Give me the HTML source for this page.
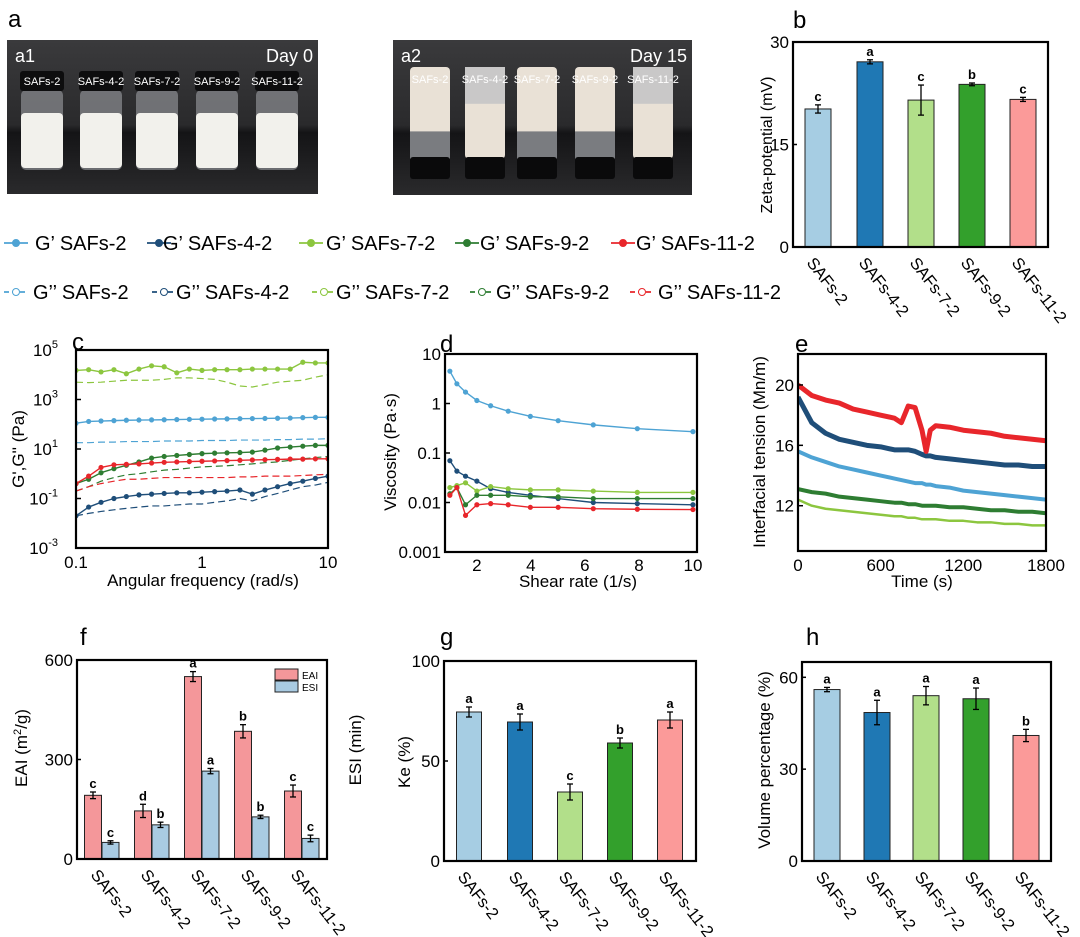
<!DOCTYPE html>
<html><head><meta charset="utf-8"><title>SAFs figure</title>
<style>
html,body{margin:0;padding:0;background:#fff;}
svg{display:block;font-family:"Liberation Sans",Arial,sans-serif;}
</style></head>
<body>
<svg id="fig" width="1080" height="937" viewBox="0 0 1080 937" xmlns="http://www.w3.org/2000/svg">
<defs>
<linearGradient id="bg1" x1="0" y1="0" x2="0" y2="1"><stop offset="0" stop-color="#3a3a3c"/><stop offset="0.55" stop-color="#2a2a2c"/><stop offset="0.6" stop-color="#141416"/><stop offset="1" stop-color="#2a2a2c"/></linearGradient>
</defs>
<g id="photos"></g>
<g id="root"></g>
</svg>
<script>
// ---------- data ----------
const groups = ["SAFs-2","SAFs-4-2","SAFs-7-2","SAFs-9-2","SAFs-11-2"];
const zetaVals = [20.2,27.1,21.5,23.8,21.6];
const zetaErr = [0.6,0.3,2.2,0.2,0.3];
const zetaLetters = ["c","a","c","b","c"];
const zetaTicks = [0,15,30];

const freq = [0.1,0.126,0.158,0.2,0.251,0.316,0.398,0.501,0.631,0.794,1,1.26,1.58,2,2.51,3.16,3.98,5.01,6.31,7.94,10];
const gp2 = [110,130,135,140,145,148,150,152,155,158,160,163,165,168,170,172,175,178,185,190,190];
const gpp2 = [18,18,19,19,20,20,20,21,21,21,22,22,22,23,23,23,24,24,25,25,26];
const gp4 = [0.02,0.045,0.07,0.1,0.12,0.14,0.15,0.16,0.17,0.17,0.18,0.19,0.2,0.22,0.15,0.22,0.3,0.4,0.5,0.65,0.8];
const gpp4 = [0.02,0.025,0.03,0.035,0.04,0.045,0.05,0.05,0.055,0.06,0.06,0.07,0.08,0.1,0.08,0.12,0.16,0.22,0.3,0.35,0.45];
const gp7 = [15000,16000,13000,16000,11000,17000,23000,21000,12000,17000,15000,16000,16000,16000,17000,17000,17000,17000,32000,30000,30000];
const gpp7 = [5000,4800,5000,5500,6000,6000,6000,6500,7500,7500,7000,6500,5000,3500,3200,4000,5000,5500,6000,8000,10000];
const gp9 = [0.4,0.6,1.1,1.6,2.2,3.0,4.3,5.0,5.5,6.0,6.5,6.8,7.0,7.2,7.5,9,11,12,13,14,14];
const gpp9 = [0.2,0.3,0.5,0.7,0.9,1.0,1.2,1.4,1.5,1.7,1.9,2.0,2.1,2.3,2.5,2.8,3,3.5,4,4.5,5];
const gp11 = [0.4,0.8,1.8,2.3,2.4,2.5,2.7,2.9,3,3.1,3.2,3.3,3.4,3.5,3.6,3.7,3.8,3.9,3.9,4,4];
const gpp11 = [0.2,0.3,0.4,0.5,0.6,0.6,0.65,0.7,0.7,0.7,0.7,0.7,0.7,0.75,0.75,0.8,0.8,0.8,0.85,0.9,0.95];

const shear = [1,1.26,1.58,2,2.51,3.16,3.98,5.01,6.31,7.94,10];
const visc2 = [4.5,2.5,1.7,1.15,0.9,0.7,0.55,0.45,0.37,0.31,0.27];
const visc4 = [0.07,0.043,0.034,0.027,0.019,0.016,0.014,0.012,0.010,0.0095,0.009];
const visc7 = [0.02,0.022,0.025,0.017,0.021,0.019,0.018,0.018,0.017,0.016,0.016];
const visc9 = [0.015,0.02,0.009,0.014,0.014,0.014,0.013,0.013,0.012,0.012,0.012];
const visc11 = [0.014,0.02,0.0055,0.009,0.0095,0.009,0.008,0.008,0.0075,0.0073,0.0072];

const times = [0,100,200,300,400,500,600,700,750,800,850,900,930,960,1000,1100,1200,1300,1400,1500,1600,1700,1800];
const ift11 = [20,19.3,19.0,18.8,18.4,18.2,18.0,17.8,17.5,18.6,18.5,17.0,15.6,17.0,17.3,17.2,17.0,16.9,16.8,16.6,16.5,16.4,16.3];
const ift4 = [19.2,17.5,16.8,16.4,16.2,16.0,15.9,15.7,15.7,15.7,15.6,15.4,15.3,15.3,15.2,15.1,15.0,14.9,14.8,14.7,14.7,14.6,14.6];
const ift2 = [15.6,15.2,14.9,14.6,14.4,14.2,14.0,13.8,13.7,13.6,13.5,13.5,13.4,13.4,13.3,13.2,13.0,12.9,12.8,12.7,12.6,12.5,12.4];
const ift9 = [13.1,12.9,12.8,12.6,12.5,12.4,12.3,12.2,12.2,12.1,12.1,12.0,12.0,12.0,12.0,11.9,11.9,11.8,11.7,11.7,11.6,11.6,11.5];
const ift7 = [12.4,12.0,11.8,11.7,11.6,11.5,11.4,11.3,11.3,11.2,11.2,11.1,11.1,11.1,11.1,11.0,11.0,10.9,10.9,10.8,10.8,10.7,10.7];

const eaiVals = [192,145,550,385,205];
const eaiErr = [10,20,15,20,18];
const eaiLetters = ["c","d","a","b","c"];
const esiVals = [50,103,265,127,62];
const esiErr = [5,8,8,5,10];
const esiLetters = ["c","b","a","b","c"];
const eaiTicks = [0,300,600];

const keVals = [74.5,69.5,34.5,59,70.5];
const keErr = [2.5,4,4,2.5,4];
const keLetters = ["a","a","c","b","a"];
const keTicks = [0,50,100];

const volVals = [56,48.5,54,53,41];
const volErr = [0.7,4,3,3.5,2];
const volLetters = ["a","a","a","a","b"];
const volTicks = [0,30,60];

// ---------- helpers ----------
const NS="http://www.w3.org/2000/svg";
const root=document.getElementById('root');
const photos=document.getElementById('photos');
function mk(tag,attrs,parent){const e=document.createElementNS(NS,tag);for(const k in attrs)e.setAttribute(k,attrs[k]);(parent||root).appendChild(e);return e;}
function txt(s,x,y,attrs,parent){const e=mk('text',Object.assign({x:x,y:y},attrs||{}),parent);e.textContent=s;return e;}
const barCols=["#a6cde3","#1f78b4","#b2df8a","#33a02c","#fb9a99"];
const lineCols=["#4ea3d4","#1f4e79","#8cc63f","#2e7d32","#e8262b"];

function linScale(d0,d1,r0,r1){return v=>r0+(v-d0)/(d1-d0)*(r1-r0);}
function logScale(d0,d1,r0,r1){const a=Math.log10(d0),b=Math.log10(d1);return v=>r0+(Math.log10(v)-a)/(b-a)*(r1-r0);}

function frame(x0,y0,x1,y1,name){
  const r=mk('rect',{x:x0,y:y0,width:x1-x0,height:y1-y0,fill:'none',stroke:'#000','stroke-width':2.2});
  
  
}
function ylab(s,x,y,size){const t=txt(s,x,y,{'font-size':size||16,'text-anchor':'middle',transform:`rotate(-90 ${x} ${y})`});return t;}
function letter(s,x,y){const t=txt(s,x,y,{'font-size':24});}

function barChart(o){
  const {x0,x1,y0,y1,ymax,ticks,centers,w}=o;
  const ys=linScale(0,ymax,y1,y0);
  o.series.forEach((s,si)=>{
    s.vals.forEach((v,i)=>{
      const cx=centers[i]+(s.off||0);
      const b=mk('rect',{x:cx-w/2,y:ys(v),width:w,height:y1-ys(v),fill:s.colors?s.colors[i]:s.color,stroke:'#222','stroke-width':1});
      
      
      const e=s.err[i];
      mk('line',{x1:cx,x2:cx,y1:ys(v+e),y2:ys(v-e),stroke:'#000','stroke-width':1.3});
      mk('line',{x1:cx-3,x2:cx+3,y1:ys(v+e),y2:ys(v+e),stroke:'#000','stroke-width':1.3});
      mk('line',{x1:cx-3,x2:cx+3,y1:ys(v-e),y2:ys(v-e),stroke:'#000','stroke-width':1.3});
      const l=txt(s.letters[i],cx,ys(v+e)-4,{'font-size':13,'font-weight':'bold','text-anchor':'middle'});
      
      
    });
  });
  frame(x0,y0,x1,y1,o.name+'-plot-frame');
  ticks.forEach(t=>{
    mk('line',{x1:x0,x2:x0+4,y1:ys(t),y2:ys(t),stroke:'#000','stroke-width':1.5});
    const tl=txt(String(t),x0-4,ys(t)+6,{'font-size':17,'text-anchor':'end'});
    
    
  });
  groups.forEach((g,i)=>{
    const gx=o.labelCenters?o.labelCenters[i]:centers[i];
    const tx=gx-12, ty=y1+16;
    const t=txt(g,tx,ty,{'font-size':16.5,transform:`rotate(52 ${tx} ${ty})`});
    
    
  });
}

function lineChart(o){
  const {x0,x1,y0,y1}=o;
  const clipId='clip'+o.name;
  const cp=mk('clipPath',{id:clipId});mk('rect',{x:x0,y:y0,width:x1-x0,height:y1-y0},cp);
  const g=mk('g',{'clip-path':`url(#${clipId})`});
  o.series.forEach(s=>{
    const pts=s.y.map((v,i)=>[o.xs(o.x[i]),o.ys(v)]);
    const p=mk('polyline',{points:pts.map(p=>p.join(',')).join(' '),fill:'none',stroke:s.color,'stroke-width':s.sw||1.3,'stroke-dasharray':s.dash||'none','stroke-linejoin':'round'},g);
    
    
    if(s.marker){pts.forEach(q=>{
      const m=mk('circle',{cx:q[0],cy:q[1],r:2.2,fill:s.hollow?'#fff':s.color,stroke:s.color,'stroke-width':0.8},g);
      
      
    });}
  });
  frame(x0,y0,x1,y1,o.name+'-plot-frame');
}

// ---------- photos ----------
function photo(x0,y0,x1,y1,label,day,centers,a2){
  mk('rect',{x:x0,y:y0,width:x1-x0,height:y1-y0,fill:'url(#bg1)'},photos);
  centers.forEach((c,i)=>{
    if(!a2){
      mk('rect',{x:c-21,y:90,width:42,height:80,rx:5,fill:'#8d8f93',opacity:0.7},photos);
      mk('rect',{x:c-21,y:113,width:42,height:55,rx:4,fill:'#f2f1ec'},photos);
      mk('rect',{x:c-22,y:71,width:44,height:20,rx:3,fill:'#0d0d0e'},photos);
    } else {
      mk('rect',{x:c-20,y:67,width:40,height:92,rx:4,fill:'#e9e1d6'},photos);
      if(i===0||i===2||i===3) mk('rect',{x:c-20,y:67+92*0.7,width:40,height:92*0.3,fill:'#7a7c80'},photos);
      if(i===1||i===4) mk('rect',{x:c-20,y:67,width:40,height:92*0.4,fill:'#c9c8c8'},photos);
      mk('rect',{x:c-20,y:157,width:40,height:22,rx:3,fill:'#0a0a0b'},photos);
    }
    txt(groups[i],c,a2?83:85,{'font-size':11,fill:'#fff','text-anchor':'middle'},photos);
  });
  txt(label,x0+8,y0+22,{'font-size':18,fill:'#fff'},photos);
  txt(day,x1-5,y0+22,{'font-size':18,fill:'#fff','text-anchor':'end'},photos);
}
photo(7,40,318,194,'a1','Day 0',[42,101,157,217,277],false);
photo(393,40,692,195,'a2','Day 15',[430,485,537,595,653],true);
letter('a',8,27);

// ---------- b ----------
letter('b',793,28);
barChart({name:'zeta',x0:793,x1:1048,y0:42,y1:247,ymax:30,ticks:zetaTicks,centers:[818,870,921,972,1023],w:26,
  series:[{vals:zetaVals,err:zetaErr,letters:zetaLetters,colors:barCols}]});
ylab('Zeta-potential (mV)',772,145,16);

// ---------- legend ----------
const legRow1=[[2,35],[145,163],[297,326],[453,480],[609,636]];
const legRow2=[[2,33],[150,176],[310,336],[468,496],[628,658]];
groups.forEach((g,i)=>{
  [[legRow1,"G’ ",250,false,'none'],[legRow2,"G’’ ",299,true,'5,3']].forEach(r=>{
    const [lx,tx]=r[0][i];
    const gEl=mk('g',{});
    
    
    mk('line',{x1:lx+2,x2:lx+26,y1:r[2]-7,y2:r[2]-7,stroke:lineCols[i],'stroke-width':1.8,'stroke-dasharray':r[4]},gEl);
    mk('circle',{cx:lx+14,cy:r[2]-7,r:3.5,fill:r[3]?'#fff':lineCols[i],stroke:lineCols[i],'stroke-width':1},gEl);
    txt(r[1]+g,tx,r[2],{'font-size':20},gEl);
  });
});

// ---------- c ----------
letter('c',72,350);
{
  const xs=logScale(0.1,10,76,328), ys=logScale(1e-3,1e5,548,350);
  const gp=[gp2,gp4,gp7,gp9,gp11], gpp=[gpp2,gpp4,gpp7,gpp9,gpp11];
  const series=[];
  groups.forEach((g,i)=>{series.push({name:"line-Gdd-"+g,y:gpp[i],color:lineCols[i],dash:'7,4',marker:false,sw:1.2});});
  groups.forEach((g,i)=>{series.push({name:"line-Gd-"+g,y:gp[i],color:lineCols[i],marker:true,sw:1.4});});
  lineChart({name:'moduli',x0:76,x1:328,y0:350,y1:548,x:freq,xs:xs,ys:ys,series:series});
  [-3,-1,1,3,5].forEach(p=>{
    const y=ys(Math.pow(10,p));
    mk('line',{x1:76,x2:81,y1:y,y2:y,stroke:'#000','stroke-width':1.5});
    const t=txt('10',58,y+6,{'font-size':17,'text-anchor':'end'});
    const s=mk('tspan',{dy:-8,'font-size':11},t);s.textContent=String(p);
    
    
  });
  [0.1,1,10].forEach(v=>{const t=txt(String(v),xs(v),568,{'font-size':17,'text-anchor':'middle'});});
  ylab('G\',G\'\' (Pa)',24,449,17);
  txt('Angular frequency (rad/s)',203,586,{'font-size':17,'text-anchor':'middle'});
}

// ---------- d ----------
letter('d',440,352);
{
  const xs=linScale(0.82,10.15,445,697), ys=logScale(0.001,10,552,354);
  const vs=[visc2,visc4,visc7,visc9,visc11];
  const series=groups.map((g,i)=>({name:'viscosity-'+g,y:vs[i],color:lineCols[i],marker:true,sw:1.4}));
  lineChart({name:'viscosity',x0:445,x1:697,y0:354,y1:552,x:shear,xs:xs,ys:ys,series:series});
  [0.001,0.01,0.1,1,10].forEach(v=>{
    const y=ys(v);
    mk('line',{x1:445,x2:450,y1:y,y2:y,stroke:'#000','stroke-width':1.5});
    const t=txt(String(v),441,y+6,{'font-size':17,'text-anchor':'end'});
    
  });
  [2,4,6,8,10].forEach(v=>{const t=txt(String(v),xs(v),571,{'font-size':17,'text-anchor':'middle'});});
  ylab('Viscosity (Pa·s)',396,452,17);
  txt('Shear rate (1/s)',578,587,{'font-size':17,'text-anchor':'middle'});
}

// ---------- e ----------
letter('e',795,352);
{
  const xs=linScale(0,1800,798,1046), ys=linScale(9,22.05,551,354);
  const vs=[ift2,ift4,ift7,ift9,ift11];
  const series=groups.map((g,i)=>({name:'tension-'+g,y:vs[i],color:lineCols[i],marker:false,sw:[4,5,2.5,4,5][i]}));
  lineChart({name:'tension',x0:798,x1:1046,y0:354,y1:551,x:times,xs:xs,ys:ys,series:series});
  [12,16,20].forEach(v=>{
    const y=ys(v);
    mk('line',{x1:798,x2:803,y1:y,y2:y,stroke:'#000','stroke-width':1.5});
    const t=txt(String(v),794,y+6,{'font-size':17,'text-anchor':'end'});
    
  });
  [0,600,1200,1800].forEach(v=>{const t=txt(String(v),xs(v),571,{'font-size':17,'text-anchor':'middle'});});
  ylab('Interfacial tension (Mn/m)',765,452,17);
  txt('Time (s)',922,587,{'font-size':17,'text-anchor':'middle'});
}

// ---------- f ----------
letter('f',80,645);
barChart({name:'emulsify',x0:77,x1:327,y0:660,y1:859,ymax:600,ticks:eaiTicks,centers:[93,143,193,243,293],labelCenters:[102,152,202,252,302],w:17,
  series:[{name:'EAI',vals:eaiVals,err:eaiErr,letters:eaiLetters,color:'#f4979a'},
          {name:'ESI',off:17.5,vals:esiVals,err:esiErr,letters:esiLetters,color:'#a9cbe2'}]});
{
  const lg=mk('g',{});
  mk('rect',{x:275,y:669,width:23,height:11,fill:'#f4979a',stroke:'#222','stroke-width':1},lg);
  mk('rect',{x:275,y:681,width:23,height:11,fill:'#a9cbe2',stroke:'#222','stroke-width':1},lg);
  txt('EAI',302,679,{'font-size':10},lg);
  txt('ESI',302,691,{'font-size':10},lg);
}
{
  const t=txt('EAI (m',0,0,{'font-size':17,'text-anchor':'middle',transform:'translate(27 748) rotate(-90)'});
  const s=mk('tspan',{dy:-6,'font-size':11},t);s.textContent='2';
  const s2=mk('tspan',{dy:6},t);s2.textContent='/g)';
  
}
ylab('ESI (min)',361,750,17);

// ---------- g ----------
letter('g',440,645);
barChart({name:'ke',x0:444,x1:696,y0:661,y1:861,ymax:100,ticks:keTicks,centers:[469,520,570,620,670],w:25,
  series:[{vals:keVals,err:keErr,letters:keLetters,colors:barCols}]});
ylab('Ke (%)',410,762,17);

// ---------- h ----------
letter('h',806,645);
barChart({name:'volume',x0:802,x1:1051,y0:662,y1:861,ymax:65,ticks:volTicks,centers:[827,877,926,976,1026],w:26,
  series:[{vals:volVals,err:volErr,letters:volLetters,colors:barCols}]});
ylab('Volume percentage (%)',770,760,17);
</script>
</body></html>
